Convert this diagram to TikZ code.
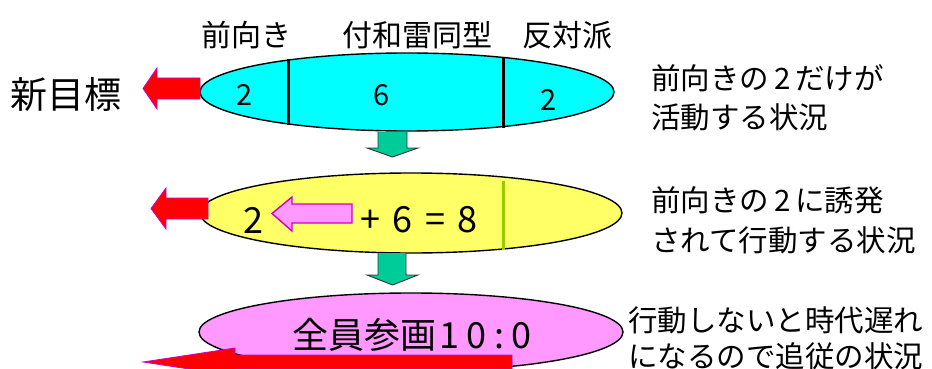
\documentclass[tikz,border=0pt]{standalone}
\usepackage{fontspec}
\setmainfont{Noto Sans CJK JP}
\usetikzlibrary{shapes.geometric}
\definecolor{cyanfill}{HTML}{00FFFF}
\definecolor{yelfill}{HTML}{FFFF66}
\definecolor{pinkfill}{HTML}{FF99FF}
\definecolor{redfill}{HTML}{FF0000}
\definecolor{magline}{HTML}{CC00CC}
\definecolor{greenfill}{HTML}{00CC99}
\definecolor{divgreen}{HTML}{99CC00}
\tikzset{
  oval/.style={ellipse, draw=black, line width=1.4pt, inner sep=0pt},
  redarrow/.style={fill=redfill, draw=magline, line width=0.8pt},
  pinkarrow/.style={fill=pinkfill, draw=magline, line width=1.4pt},
  greenarrow/.style={fill=greenfill, draw=black!80, line width=0.9pt},
  divider/.style={line width=3pt},
  lbl/.style={inner sep=0pt, font=\fontsize{30pt}{32pt}\selectfont},
  side/.style={inner sep=0pt, anchor=west, font=\fontsize{29.5pt}{32pt}\selectfont},
  num/.style={inner sep=0pt, font=\fontsize{29pt}{32pt}\selectfont},
  bignum/.style={inner sep=0pt, font=\fontsize{36pt}{38pt}\selectfont},
}
\begin{document}
\begin{tikzpicture}[x=1pt, y=-1pt]
\useasboundingbox (0,0) rectangle (932,369);
\clip (0,0) rectangle (932,369);

% top labels
\node[lbl] (l1) at (246,35) {前向き};
\node[lbl] (l2) at (417,35) {付和雷同型};
\node[lbl] (l3) at (567,35) {反対派};
\node[inner sep=0pt, font=\fontsize{37pt}{40pt}\selectfont] (goal) at (66,95) {新目標};

% top ellipse
\node[oval, fill=cyanfill, minimum width=414pt, minimum height=78pt] (e1) at (407,92) {};
\draw[divider] (288,59) -- (288,125);
\draw[divider] (503,58) -- (503,128);
\node[num] (n1) at (245,95) {2};
\node[num] (n2) at (382,95) {6};
\node[num] (n3) at (549,100) {2};
\draw[redarrow] (200,78) -- (157,78) -- (157,68) -- (143,88.5) -- (157,109) -- (157,99) -- (200,99) -- cycle;
\draw[greenarrow] (378,132) -- (378,148) -- (367,148) -- (392.5,157) -- (418,148) -- (407,148) -- (407,132);

\node[side] (t1a) at (651,78) {前向きの\,2\,だけが};
\node[side] (t1b) at (651,117) {活動する状況};

% middle ellipse
\node[oval, fill=yelfill, minimum width=422pt, minimum height=80pt] (e2) at (411,213) {};
\draw[divider, divgreen] (503,181) -- (503,250);
\node[bignum] (m1) at (253,220) {2};
\draw[pinkarrow] (352,204) -- (292,204) -- (292,197) -- (272,213.5) -- (292,231) -- (292,223) -- (352,223) -- cycle;
\node[bignum] (m2) at (419,220) {+\hspace{0.35em}6\hspace{0.35em}=\hspace{0.35em}8};
\draw[redarrow] (208,198) -- (166,198) -- (166,188) -- (151,208.5) -- (166,229) -- (166,219) -- (208,219) -- cycle;
\draw[greenarrow] (378,253) -- (378,275) -- (367,275) -- (392.5,285) -- (418,275) -- (406,275) -- (406,253);

\node[side] (t2a) at (651,200) {前向きの\,2\,に誘発};
\node[side] (t2b) at (651,240) {されて行動する状況};

% bottom ellipse
\node[oval, fill=pinkfill, minimum width=424pt, minimum height=78pt] (e3) at (411,332) {};
\node[inner sep=0pt, anchor=west, font=\fontsize{36pt}{38pt}\selectfont] (b1) at (292,335) {全員参画\hspace{0.1em}1\hspace{0.2em}0\hspace{0.2em}:\hspace{0.2em}0};
\draw[redarrow] (512,355) -- (235,355) -- (235,348) -- (143,362) -- (235,376) -- (235,369) -- (512,369) -- cycle;

\node[side] (t3a) at (628,320) {行動しないと時代遅れ};
\node[side] (t3b) at (628,356) {になるので追従の状況};
\end{tikzpicture}
\end{document}
